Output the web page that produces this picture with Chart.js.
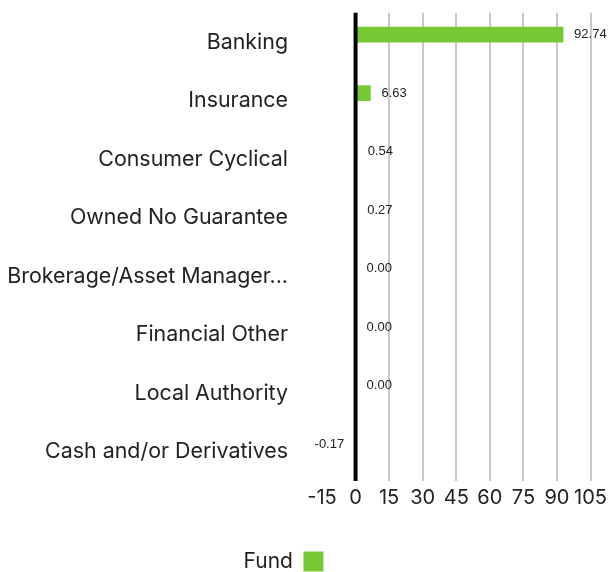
<!DOCTYPE html>
<html>
<head>
<meta charset="utf-8">
<script src="https://cdn.jsdelivr.net/npm/chart.js@4.4.0/dist/chart.umd.min.js"></script>
<style>
  html, body { margin: 0; padding: 0; background: #fff; overflow: hidden; }
  #wrap { width: 612px; height: 582px; }
</style>
</head>
<body>
<div id="wrap"><canvas id="sector-chart-id"></canvas></div>
<script>
const BAR_COLOR = '#76c935'
const TEXT_COLOR = '#222222'
const GRID_COLOR = '#c8c8c8'

const categories = [
    'Banking',
    'Insurance',
    'Consumer Cyclical',
    'Owned No Guarantee',
    'Brokerage/Asset Manager...',
    'Financial Other',
    'Local Authority',
    'Cash and/or Derivatives'
]
const fundValues = [92.74, 6.63, 0.54, 0.27, 0.00, 0.00, 0.00, -0.17]
const emptyValues = [null, null, null, null, null, null, null, null]
const xTicks = [-15, 0, 15, 30, 45, 60, 75, 90, 105]

// zero line on top of the bars, then value labels at the bar ends
const valueLabels = {
    id: 'valueLabels',
    afterDatasetsDraw(chart) {
        const ctx = chart.ctx
        const area = chart.chartArea
        const x0 = chart.scales.x.getPixelForValue(0)
        ctx.save()
        ctx.strokeStyle = '#000000'
        ctx.lineWidth = 4
        ctx.beginPath()
        ctx.moveTo(x0, area.top)
        ctx.lineTo(x0, area.bottom)
        ctx.stroke()

        const meta = chart.getDatasetMeta(0)
        ctx.font = '13px "Liberation Sans", Arial, sans-serif'
        ctx.fillStyle = TEXT_COLOR
        ctx.textBaseline = 'middle'
        meta.data.forEach((bar, i) => {
            const v = fundValues[i]
            if (v < 0) {
                ctx.textAlign = 'right'
                ctx.fillText(v.toFixed(2), bar.x - 11, bar.y)
            } else {
                ctx.textAlign = 'left'
                ctx.fillText(v.toFixed(2), bar.x + 11, bar.y)
            }
        })
        ctx.restore()
    }
}

// legend sits a bit left of centre in the reference
const legendShift = {
    id: 'legendShift',
    afterLayout(chart) {
        const lg = chart.legend
        if (!lg) return
        lg.left -= 13
        lg.right -= 13
    }
}

Chart.register(valueLabels, legendShift)

const data = {
    labels: categories,
    datasets: [
        {
            label: 'Fund',
            data: fundValues,
            backgroundColor: BAR_COLOR,
            borderWidth: 0,
            barThickness: 15
        }, {
            label: 'Benchmark',
            data: emptyValues,
            backgroundColor: 'rgba(0,0,0,0)',
            barThickness: 15
        }
    ]
}

const config = {
    type: 'bar',
    data: data,
    options: {
        indexAxis: 'y',
        responsive: true,
        maintainAspectRatio: false,
        animation: false,
        layout: {
            padding: { top: 12, right: 19, left: 0, bottom: 0 }
        },
        plugins: {
            tooltip: { enabled: false },
            legend: {
                position: 'bottom',
                rtl: true,
                labels: {
                    filter: item => item.text === 'Fund',
                    boxWidth: 20,
                    boxHeight: 20,
                    padding: 10,
                    color: TEXT_COLOR,
                    font: { family: 'Inter', size: 21 }
                }
            }
        },
        scales: {
            x: {
                min: -15,
                max: 105,
                afterBuildTicks: scale => {
                    scale.ticks = xTicks.map(v => ({ value: v }))
                },
                afterFit: scale => { scale.height = 60 },
                border: { display: false },
                grid: {
                    drawTicks: false,
                    color: c => (c.tick.value === 0 || c.tick.value === -15) ? 'rgba(0,0,0,0)' : GRID_COLOR,
                    lineWidth: 2
                },
                ticks: {
                    padding: 5,
                    maxRotation: 0,
                    autoSkip: false,
                    color: TEXT_COLOR,
                    font: { family: 'Inter', size: 20 }
                }
            },
            y: {
                afterFit: scale => { scale.width = 322 },
                border: { display: false },
                grid: { display: false, drawTicks: true, tickLength: 34 },
                ticks: {
                    padding: 0,
                    color: TEXT_COLOR,
                    font: { family: 'Inter', size: 21.4 }
                }
            }
        }
    }
}

const el = document.getElementById('sector-chart-id')
const chart = new Chart(el, config)
</script>
</body>
</html>
